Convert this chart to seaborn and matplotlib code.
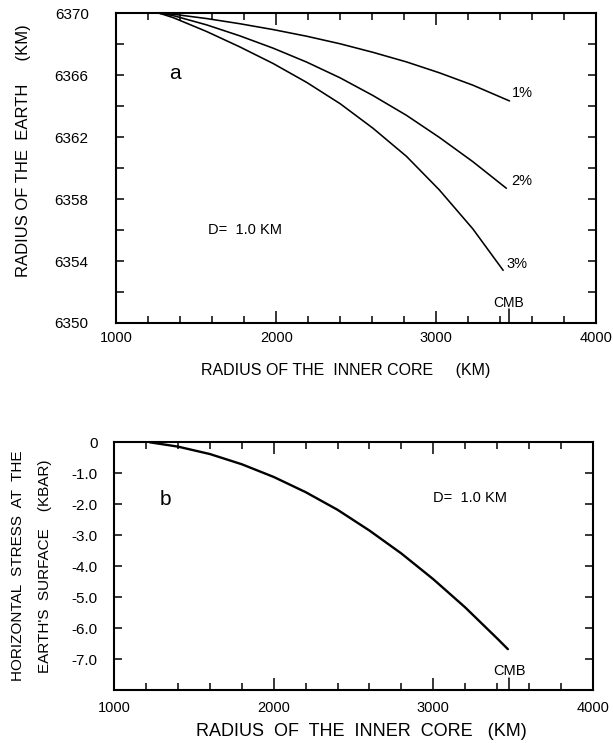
import matplotlib
matplotlib.use("Agg")
import matplotlib.pyplot as plt
from matplotlib.ticker import MultipleLocator, FixedLocator
import numpy as np
import pandas as pd
import seaborn as sns

# ---------------- data ----------------
# Panel a: radius of the Earth vs radius of the inner core
core_1pct = [1270, 1355, 1565, 1770, 1980, 2190, 2400, 2605, 2815, 3020, 3230, 3460]
earth_1pct = [6370.00, 6369.94, 6369.66, 6369.33, 6368.95, 6368.52, 6368.03, 6367.48,
              6366.86, 6366.16, 6365.36, 6364.34]
core_2pct = [1270, 1355, 1565, 1770, 1980, 2190, 2400, 2605, 2815, 3020, 3230, 3440]
earth_2pct = [6370.00, 6369.85, 6369.25, 6368.55, 6367.75, 6366.85, 6365.83, 6364.69,
              6363.41, 6361.99, 6360.42, 6358.70]
core_3pct = [1270, 1355, 1565, 1770, 1980, 2190, 2400, 2605, 2815, 3020, 3230, 3420]
earth_3pct = [6370.00, 6369.72, 6368.82, 6367.84, 6366.76, 6365.54, 6364.16, 6362.58,
              6360.76, 6358.60, 6356.08, 6353.40]
pct_labels = ["1%", "2%", "3%"]

# Panel b: horizontal stress at the Earth's surface (kbar)
core_b = [1223, 1400, 1600, 1800, 2000, 2200, 2400, 2600, 2800, 3000, 3200, 3400, 3468]
stress_b = [0.0, -0.14, -0.38, -0.71, -1.12, -1.61, -2.18, -2.85, -3.59, -4.42, -5.33,
            -6.33, -6.68]

CMB_A = 3455
CMB_B = 3478

x_ticks = [1000, 2000, 3000, 4000]
x_ticklabels = ["1000", "2000", "3000", "4000"]
ya_ticks = [6350, 6354, 6358, 6362, 6366, 6370]
ya_ticklabels = ["6350", "6354", "6358", "6362", "6366", "6370"]
yb_ticks = [0, -1, -2, -3, -4, -5, -6, -7]
yb_ticklabels = ["0", "-1.0", "-2.0", "-3.0", "-4.0", "-5.0", "-6.0", "-7.0"]

df_a = pd.concat([
    pd.DataFrame({"core": core_1pct, "earth": earth_1pct, "pct": "1%"}),
    pd.DataFrame({"core": core_2pct, "earth": earth_2pct, "pct": "2%"}),
    pd.DataFrame({"core": core_3pct, "earth": earth_3pct, "pct": "3%"}),
], ignore_index=True)
df_b = pd.DataFrame({"core": core_b, "stress": stress_b})

# ---------------- style ----------------
sns.set_theme(style="ticks")
plt.rcParams["font.family"] = ["Liberation Sans", "DejaVu Sans"]
plt.rcParams["axes.linewidth"] = 1.5
for k in ["text.color", "axes.labelcolor", "xtick.color", "ytick.color",
          "axes.edgecolor"]:
    plt.rcParams[k] = "black"

fig = plt.figure(figsize=(6.13, 7.43), dpi=100)
fig.patch.set_facecolor("white")
ax1 = fig.add_axes([0.190, 0.5653, 0.782, 0.4168])
ax2 = fig.add_axes([0.1865, 0.0713, 0.7804, 0.3334])

# ---------------- panel a ----------------
sns.lineplot(data=df_a, x="core", y="earth", hue="pct", units="pct", estimator=None,
             sort=False, palette=["black"] * 3, legend=False, linewidth=1.15, ax=ax1)
ax1.set_xlim(1000, 4000)
ax1.set_ylim(6350, 6370)

# ---------------- panel b ----------------
sns.lineplot(data=df_b, x="core", y="stress", color="black", linewidth=1.7,
             sort=False, ax=ax2)
ax2.set_xlim(1000, 4000)
ax2.set_ylim(-8, 0)

for ax in (ax1, ax2):
    ax.set_facecolor("white")
    for s in ax.spines.values():
        s.set_visible(True)
        s.set_color("black")
        s.set_linewidth(1.5)
    ax.set_xlabel("")
    ax.set_ylabel("")
    ax.xaxis.set_major_locator(FixedLocator(x_ticks))
    ax.set_xticklabels(x_ticklabels)
    ax.xaxis.set_minor_locator(MultipleLocator(200))
    ax.tick_params(axis="x", which="major", direction="in", length=8.5, width=1.1,
                   top=True, bottom=True, labelsize=10.5, pad=5, colors="black")
    ax.tick_params(axis="x", which="minor", direction="in", length=5, width=1.1,
                   top=True, bottom=True, colors="black")
    ax.tick_params(axis="y", which="both", direction="in", length=6, width=1.1,
                   left=True, right=True, colors="black")

ax1.yaxis.set_major_locator(FixedLocator(ya_ticks))
ax1.set_yticklabels(ya_ticklabels)
ax1.yaxis.set_minor_locator(MultipleLocator(2))
ax1.tick_params(axis="y", which="major", labelsize=11, pad=20)
ax1.tick_params(axis="x", which="major", pad=6)

ax2.yaxis.set_major_locator(FixedLocator(yb_ticks))
ax2.set_yticklabels(yb_ticklabels)
ax2.yaxis.set_minor_locator(MultipleLocator(1))
ax2.tick_params(axis="y", which="major", labelsize=11, pad=12)
ax2.tick_params(axis="x", which="major", pad=8)

# CMB marker ticks
ax1.axvline(CMB_A, ymin=0, ymax=0.045, color="black", linewidth=1.1)
ax2.axvline(CMB_B, ymin=0, ymax=0.05, color="black", linewidth=1.1)

# ---------------- annotations ----------------
ax1.text(1366, 6366.1, "a", fontsize=15, ha="center", va="center")
ax1.text(1803, 6356.0, "D=  1.0 KM", fontsize=10.5, ha="center", va="center")
pct_y = [earth_1pct[-1] + 0.5, earth_2pct[-1] + 0.5, earth_3pct[-1] + 0.4]
pct_x = [3474, 3468, 3443]
for lab, xx, yy in zip(pct_labels, pct_x, pct_y):
    ax1.text(xx, yy, lab, fontsize=10.5, ha="left", va="center")
ax1.text(CMB_A, 6351.3, "CMB", fontsize=10, ha="center", va="center")

ax2.text(1318, -1.86, "b", fontsize=15, ha="center", va="center")
ax2.text(3230, -1.80, "D=  1.0 KM", fontsize=10.5, ha="center", va="center")
ax2.text(CMB_B, -7.38, "CMB", fontsize=10.5, ha="center", va="center")

# axis titles
fig.text(0.5645, 1 - 370 / 743, "RADIUS OF THE  INNER CORE     (KM)", fontsize=11.5,
         ha="center", va="center")
fig.text(24 / 613, 1 - 151 / 743, "RADIUS OF THE  EARTH     (KM)", fontsize=12,
         rotation=90, ha="center", va="center")
fig.text(0.589, 1 - 732 / 743, "RADIUS  OF  THE  INNER  CORE   (KM)", fontsize=13,
         ha="center", va="center")
fig.text(18 / 613, 1 - 566 / 743, "HORIZONTAL  STRESS  AT  THE", fontsize=11,
         rotation=90, ha="center", va="center")
fig.text(45 / 613, 1 - 566 / 743, "EARTH'S  SURFACE    (KBAR)", fontsize=11,
         rotation=90, ha="center", va="center")

fig.savefig("out.png", dpi=100, facecolor="white")
